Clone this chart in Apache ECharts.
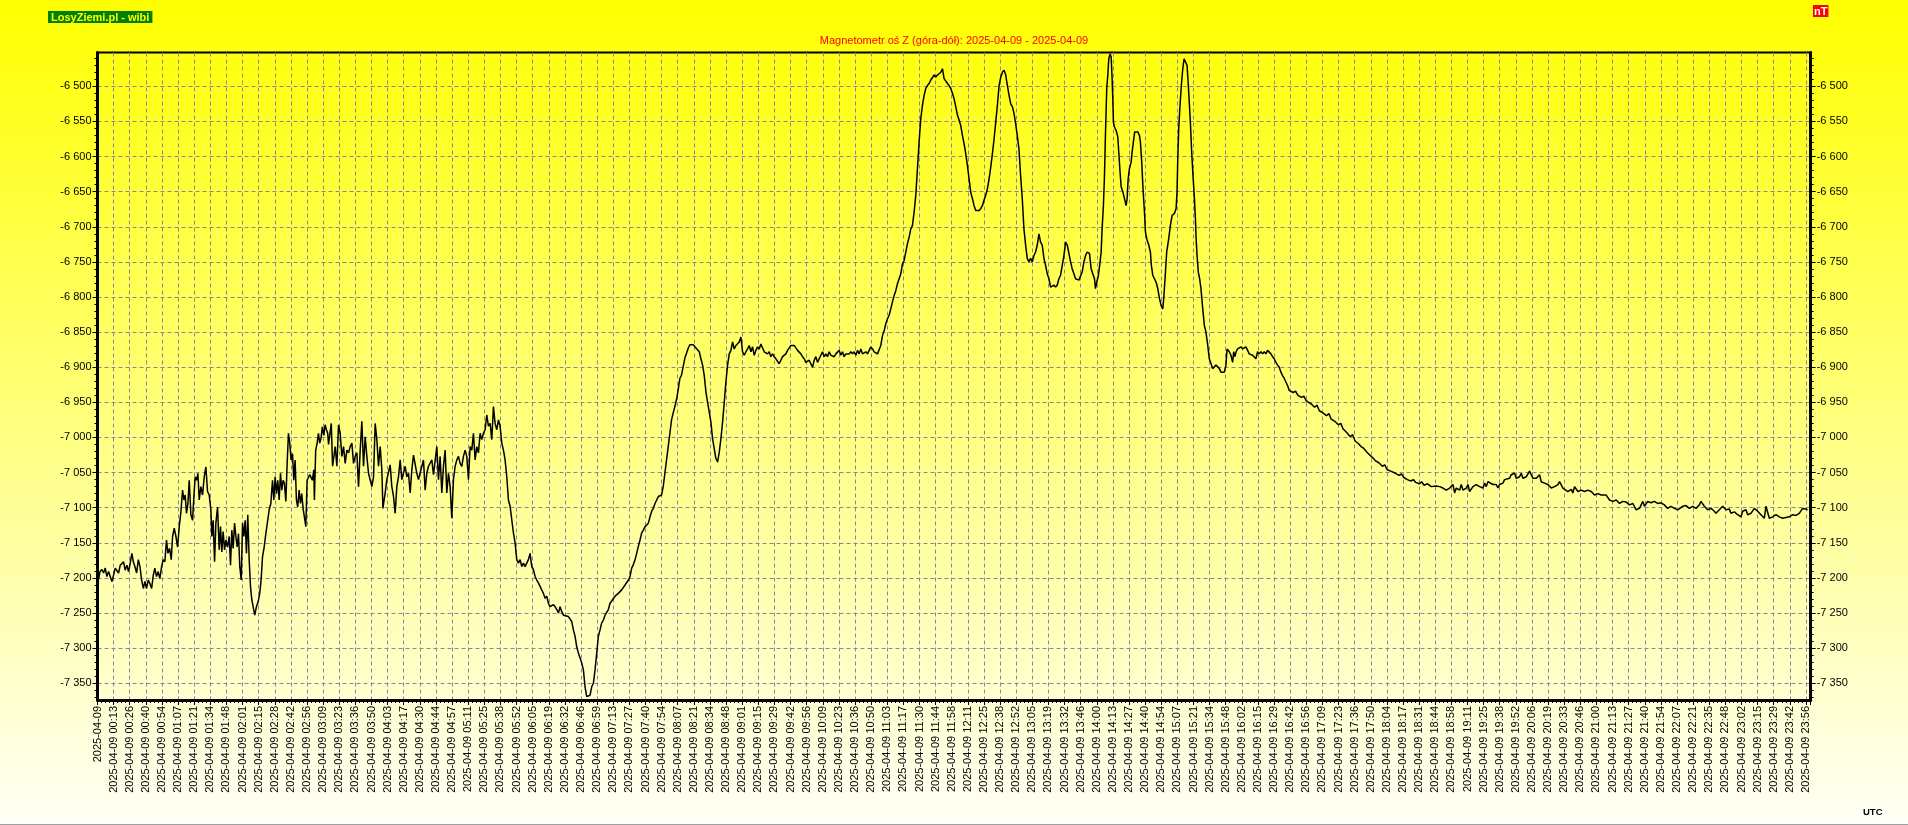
<!DOCTYPE html>
<html><head><meta charset="utf-8">
<script src="https://cdn.jsdelivr.net/npm/echarts@6.0.0/dist/echarts.min.js"></script>
<style>html,body{margin:0;padding:0;background:#fff;overflow:hidden}#chart{width:1908px;height:825px}</style>
</head><body><div id="chart"></div>
<script>
const chartTitle = 'Magnetometr oś Z (góra-dół): 2025-04-09 - 2025-04-09';
const dateLabel = '2025-04-09';
const tickTimes = ['', '00:13','00:26','00:40','00:54','01:07','01:21','01:34','01:48','02:01','02:15','02:28','02:42','02:56','03:09','03:23','03:36','03:50','04:03','04:17','04:30','04:44','04:57','05:11','05:25','05:38','05:52','06:05','06:19','06:32','06:46','06:59','07:13','07:27','07:40','07:54','08:07','08:21','08:34','08:48','09:01','09:15','09:29','09:42','09:56','10:09','10:23','10:36','10:50','11:03','11:17','11:30','11:44','11:58','12:11','12:25','12:38','12:52','13:05','13:19','13:32','13:46','14:00','14:13','14:27','14:40','14:54','15:07','15:21','15:34','15:48','16:02','16:15','16:29','16:42','16:56','17:09','17:23','17:36','17:50','18:04','18:17','18:31','18:44','18:58','19:11','19:25','19:38','19:52','20:06','20:19','20:33','20:46','21:00','21:13','21:27','21:40','21:54','22:07','22:21','22:35','22:48','23:02','23:15','23:29','23:42','23:56'];
const lastTickMinute = 1436;
const yMajorTicks = [-7350,-7300,-7250,-7200,-7150,-7100,-7050,-7000,-6950,-6900,-6850,-6800,-6750,-6700,-6650,-6600,-6550,-6500];
const yRange = [-7373.8, -6451.9];
const xRange = [0, 1440];

// [minute of day, nT]
const nightSamples = [[0,-7194],[0.9,-7202],[2.1,-7191],[3.7,-7188],[5.1,-7193],[6.5,-7186],[7.9,-7198],[9.3,-7191],[10.7,-7198],[12.1,-7205],[13.5,-7196],[14.9,-7186],[16.3,-7188],[17.7,-7193],[19.1,-7182],[20.5,-7184],[21.9,-7177],[23.3,-7189],[24.7,-7182],[26.1,-7191],[27.5,-7179],[28.9,-7165],[30.1,-7177],[31.5,-7184],[32.9,-7193],[34.3,-7174],[35.7,-7184],[37.1,-7203],[38.5,-7215],[39.9,-7205],[41.2,-7215],[42.6,-7203],[44.0,-7208],[45.5,-7215],[46.9,-7196],[48.2,-7186],[49.6,-7198],[51.0,-7191],[52.4,-7201],[53.9,-7184],[55.2,-7174],[56.6,-7177],[58.0,-7146],[59.2,-7165],[60.6,-7158],[62.0,-7174],[63.1,-7141],[64.5,-7129],[65.9,-7141],[67.3,-7156],[68.7,-7127],[70.1,-7106],[71.5,-7075],[72.6,-7089],[73.7,-7082],[74.8,-7108],[76.0,-7094],[77.1,-7061],[78.5,-7110],[79.9,-7118],[81.0,-7084],[82.1,-7056],[83.2,-7061],[84.4,-7051],[85.5,-7089],[86.9,-7070],[88.3,-7082],[89.7,-7056],[91.1,-7042],[92.5,-7077],[93.9,-7082],[95.3,-7103],[96.1,-7141],[97.2,-7118],[98.4,-7177],[99.5,-7122],[100.9,-7099],[102.3,-7160],[103.4,-7127],[104.5,-7163],[105.6,-7134],[106.8,-7160],[107.9,-7146],[109.3,-7156],[110.7,-7141],[111.8,-7182],[112.9,-7132],[114.0,-7158],[115.2,-7122],[116.3,-7141],[117.4,-7156],[118.5,-7137],[119.6,-7184],[120.8,-7203],[121.9,-7122],[123.0,-7141],[124.1,-7118],[125.2,-7165],[126.3,-7110],[127.5,-7174],[128.6,-7212],[129.7,-7231],[130.8,-7241],[132.2,-7253],[133.6,-7241],[135.0,-7234],[136.4,-7222],[137.5,-7203],[138.7,-7170],[140.1,-7156],[141.5,-7137],[142.9,-7120],[144.3,-7103],[145.7,-7094],[147.1,-7061],[148.2,-7089],[149.3,-7056],[150.4,-7080],[151.5,-7061],[152.7,-7089],[153.8,-7051],[154.9,-7075],[156.0,-7061],[157.1,-7065],[158.3,-7091],[159.4,-7037],[160.5,-6994],[161.6,-7008],[162.7,-7032],[163.9,-7023],[165.0,-7061],[166.1,-7032],[167.2,-7089],[168.3,-7099],[169.5,-7075],[170.6,-7094],[171.7,-7080],[172.8,-7101],[173.9,-7099],[175.1,-7127],[176.2,-7061],[177.3,-7061],[178.4,-7053],[179.5,-7051],[180.6,-7061],[181.8,-7046],[182.3,-7089],[183.4,-7018],[184.6,-7008],[185.7,-6994],[186.8,-7008],[187.9,-7001],[189.0,-6985],[190.2,-6997],[191.3,-6982],[192.4,-6989],[193.5,-6994]];

const morningSamples = [[194.2,-7010],[196.5,-6980],[197.6,-7041],[199.8,-7013],[201.2,-7041],[202.6,-6982],[204.0,-6994],[205.4,-7027],[206.8,-7013],[208.2,-7037],[209.6,-7018],[211.0,-7022],[212.4,-7013],[213.8,-7008],[215.2,-7037],[216.6,-7027],[218.0,-7022],[219.4,-7070],[220.8,-7018],[222.2,-6977],[223.6,-7041],[225.0,-6999],[226.4,-7027],[227.8,-7051],[229.2,-7051],[230.6,-7070],[232.0,-7056],[233.4,-6980],[234.8,-7003],[236.2,-7041],[237.6,-7013],[239.0,-7046],[239.9,-7101],[241.8,-7079],[243.2,-7060],[246.0,-7039],[247.4,-7070],[248.8,-7084],[250.2,-7108],[251.6,-7070],[253.0,-7056],[254.4,-7032],[255.8,-7060],[258.6,-7041],[260.0,-7056],[261.4,-7051],[262.8,-7079],[264.2,-7046],[265.6,-7025],[267.0,-7027],[268.4,-7051],[269.8,-7060],[272.6,-7041],[274.0,-7032],[275.4,-7075],[276.8,-7051],[278.2,-7041],[281.0,-7032],[282.4,-7053],[283.8,-7051],[285.2,-7013],[286.6,-7060],[288.0,-7027],[289.4,-7079],[290.8,-7041],[292.2,-7018],[293.6,-7079],[295.0,-7051],[296.4,-7070],[297.8,-7115],[299.2,-7060],[300.6,-7041],[302.0,-7032],[303.4,-7027],[304.8,-7037],[306.2,-7041],[307.6,-7027],[309.0,-7018],[310.4,-7027],[311.8,-7060],[313.2,-7013],[314.6,-7018],[316.0,-6994],[317.4,-7032],[318.8,-7013],[320.2,-7022],[321.6,-6994],[323.0,-7003],[324.4,-6994],[325.8,-6989],[327.2,-6968],[328.6,-6984],[330.0,-6980],[331.4,-7003],[332.8,-6956],[334.2,-6980],[335.6,-6989],[337.0,-6975],[338.4,-6984],[339.8,-7008],[341.2,-7018],[342.6,-7032],[344.0,-7056],[345.4,-7089],[346.8,-7098],[348.2,-7117],[349.6,-7136],[351.0,-7150],[352.4,-7174],[353.8,-7179],[355.2,-7174],[356.6,-7184],[358.0,-7179],[359.4,-7184],[360.8,-7179],[362.2,-7174],[363.6,-7165],[365.0,-7184],[366.4,-7188],[367.8,-7198],[369.2,-7203],[370.6,-7207],[373.4,-7217],[374.8,-7222],[376.2,-7229],[377.6,-7226],[379.0,-7236],[380.4,-7241],[381.8,-7243],[383.2,-7238],[384.6,-7241],[386.0,-7245],[387.4,-7250],[388.8,-7241],[390.2,-7248],[391.6,-7253],[393.0,-7255],[395.8,-7255],[397.2,-7257],[398.6,-7262],[400.0,-7274],[401.4,-7283],[402.8,-7298],[404.2,-7307],[405.6,-7314],[407.0,-7321],[408.4,-7331],[409.8,-7355],[411.2,-7369],[412.6,-7369],[414.0,-7367],[415.4,-7355],[416.8,-7350],[418.2,-7331],[419.6,-7307],[421.0,-7283],[422.4,-7274],[423.8,-7264],[425.2,-7260],[426.6,-7253],[429.4,-7245],[430.8,-7236],[432.2,-7234],[435.0,-7226],[437.8,-7222],[440.6,-7217],[443.4,-7210],[446.3,-7203],[447.6,-7198],[449.0,-7186],[450.4,-7181],[451.8,-7174],[453.2,-7165],[454.6,-7155],[456.0,-7146],[457.4,-7136],[458.8,-7132],[460.2,-7127],[463.0,-7122],[464.4,-7113],[465.8,-7105],[467.2,-7101],[468.6,-7094],[470.0,-7089],[471.4,-7084],[474.1,-7082],[475.5,-7070],[476.9,-7051],[478.3,-7032],[479.7,-7013],[481.1,-6994],[482.5,-6975],[483.9,-6965],[485.3,-6956],[486.7,-6946],[488.1,-6932],[489.5,-6916],[490.9,-6911],[492.3,-6899],[493.7,-6887],[495.1,-6880],[496.5,-6873],[497.9,-6868],[499.3,-6866],[500.7,-6868],[502.1,-6870]];

const middaySamples = [[505.8,-6878],[507.2,-6888],[508.6,-6897],[510.0,-6912],[511.4,-6935],[512.8,-6950],[514.2,-6964],[515.6,-6978],[517.0,-7002],[518.4,-7016],[519.8,-7030],[521.2,-7035],[522.6,-7021],[524.0,-7002],[525.4,-6978],[526.8,-6950],[528.2,-6921],[529.6,-6897],[531.0,-6881],[532.4,-6876],[533.8,-6864],[535.2,-6874],[536.6,-6869],[538.0,-6867],[539.4,-6864],[540.8,-6857],[542.2,-6878],[543.6,-6883],[545.0,-6878],[546.4,-6874],[547.8,-6869],[549.2,-6878],[550.6,-6871],[552.0,-6883],[553.4,-6876],[554.8,-6871],[556.2,-6874],[557.6,-6867],[559.0,-6869],[560.4,-6878],[561.8,-6876],[563.2,-6881],[564.6,-6878],[566.0,-6885],[567.4,-6881],[568.8,-6885],[570.2,-6888],[571.6,-6890],[573.0,-6895],[574.4,-6890],[575.8,-6885],[577.2,-6883],[578.6,-6881],[580.0,-6876],[581.4,-6874],[582.8,-6869],[584.2,-6871],[585.6,-6869],[587.0,-6871],[588.4,-6876],[589.8,-6878],[591.2,-6881],[592.6,-6885],[594.0,-6888],[595.4,-6893],[596.8,-6895],[598.2,-6890],[599.6,-6895],[601.0,-6900],[602.4,-6890],[603.8,-6885],[605.2,-6893],[606.6,-6888],[608.0,-6883],[609.4,-6878],[610.8,-6885],[612.2,-6881],[613.6,-6885],[615.0,-6878],[616.4,-6883],[617.8,-6881],[619.2,-6885],[620.6,-6881],[622.0,-6883],[623.4,-6876],[624.8,-6883],[626.2,-6878],[627.6,-6885],[629.0,-6881],[630.4,-6883],[631.8,-6881],[633.2,-6878],[634.6,-6881],[636.0,-6878],[637.4,-6883],[638.8,-6876],[640.2,-6881],[641.6,-6874],[643.0,-6881],[644.4,-6883],[645.8,-6878],[647.2,-6881],[648.6,-6883],[650.0,-6871],[651.4,-6874],[652.8,-6878],[654.2,-6876],[655.6,-6881],[657.0,-6883],[658.4,-6869],[659.8,-6855],[661.2,-6848],[662.6,-6838],[664.0,-6831],[665.4,-6826],[666.8,-6817],[668.2,-6807],[669.6,-6798],[671.0,-6791],[672.4,-6781],[673.8,-6774],[675.2,-6767],[676.6,-6753],[678.0,-6748],[679.4,-6736],[680.8,-6724],[682.2,-6715],[683.6,-6703],[685.0,-6698],[686.4,-6679],[687.8,-6655],[689.2,-6617],[690.6,-6579],[692.0,-6546],[693.4,-6527],[694.8,-6513],[696.2,-6503],[697.6,-6499],[699.0,-6496],[700.4,-6491],[701.8,-6489],[703.2,-6484],[704.6,-6487],[706.0,-6484],[707.4,-6482],[708.8,-6480],[710.2,-6475],[711.6,-6489],[713.0,-6491],[714.4,-6496],[715.8,-6499],[717.2,-6503],[718.6,-6510],[720.0,-6518],[721.4,-6529],[722.8,-6541],[724.2,-6548],[725.6,-6556],[727.0,-6570],[728.4,-6582],[729.8,-6596],[731.2,-6613],[732.6,-6632],[734.0,-6651],[735.4,-6660],[736.8,-6670],[738.2,-6677],[739.6,-6677],[741.0,-6677],[742.4,-6674],[743.8,-6670],[745.2,-6662],[746.6,-6655],[748.0,-6646],[749.4,-6632],[750.8,-6615],[752.2,-6596],[753.6,-6575],[755.0,-6551],[756.4,-6527],[757.8,-6499],[759.2,-6487],[760.6,-6480],[762.0,-6477],[763.4,-6484],[764.8,-6499],[766.2,-6513],[767.6,-6525],[769.0,-6529],[770.4,-6539],[771.7,-6553],[773.1,-6570],[774.5,-6589],[775.9,-6627],[777.3,-6660],[778.7,-6703],[780.1,-6726],[781.5,-6745],[782.9,-6750],[784.3,-6745],[785.7,-6750],[787.1,-6741],[788.5,-6736],[789.9,-6726],[791.3,-6710],[792.7,-6722],[794.1,-6726],[795.5,-6745],[796.9,-6755],[798.3,-6767],[799.7,-6774],[801.1,-6786],[802.5,-6786],[803.9,-6783],[805.3,-6786],[806.7,-6783],[808.1,-6774],[809.5,-6769],[810.9,-6755],[812.3,-6741],[813.7,-6722],[815.1,-6726],[816.5,-6738],[817.9,-6750],[819.3,-6760],[820.7,-6767],[822.1,-6774],[823.5,-6776],[824.9,-6776],[826.3,-6774],[827.7,-6764],[829.1,-6750],[830.5,-6741],[831.9,-6736]];

const afternoonSamples = [[833.8,-6738],[835.2,-6760],[836.6,-6762],[838.0,-6774],[838.8,-6788],[839.9,-6779],[841.3,-6769],[842.7,-6750],[843.6,-6736],[844.4,-6703],[845.5,-6670],[846.4,-6627],[847.2,-6570],[848.3,-6503],[849.2,-6484],[850.0,-6461],[851.1,-6454],[852.0,-6458],[852.8,-6489],[853.4,-6518],[853.9,-6551],[854.8,-6558],[856.2,-6563],[857.6,-6572],[858.4,-6594],[859.5,-6622],[860.4,-6643],[861.8,-6650],[863.2,-6660],[864.6,-6670],[865.4,-6660],[866.3,-6632],[867.4,-6617],[868.8,-6608],[869.6,-6594],[870.7,-6579],[871.8,-6565],[873.0,-6567],[874.4,-6565],[875.8,-6570],[876.6,-6579],[877.7,-6608],[878.8,-6646],[880.0,-6679],[880.8,-6707],[881.9,-6717],[883.6,-6726],[885.0,-6736],[885.8,-6755],[887.0,-6769],[888.4,-6774],[889.8,-6779],[891.2,-6788],[892.6,-6802],[894.0,-6812],[895.4,-6817],[896.2,-6802],[897.3,-6774],[898.7,-6736],[900.4,-6717],[901.8,-6698],[903.2,-6684],[905.2,-6681],[906.6,-6674],[907.4,-6650],[908.0,-6603],[908.8,-6560],[909.9,-6527],[911.0,-6499],[912.2,-6475],[913.3,-6461],[914.7,-6463],[915.8,-6470],[916.9,-6499],[917.8,-6527],[918.6,-6551],[919.7,-6594],[920.8,-6627],[922.0,-6660],[922.8,-6688],[923.3,-6712],[924.2,-6741],[925.3,-6765],[926.4,-6774],[927.5,-6788],[929.0,-6817],[930.3,-6840],[931.7,-6850],[933.2,-6869],[934.5,-6888],[936.0,-6895],[937.3,-6902],[938.7,-6902],[940.1,-6897],[941.5,-6897],[943.0,-6902],[944.3,-6907],[945.7,-6907],[947.1,-6907],[948.5,-6897],[949.4,-6874],[950.5,-6874],[951.3,-6878],[952.7,-6883],[954.1,-6893],[955.0,-6878],[956.1,-6885],[957.0,-6878],[958.3,-6874],[959.7,-6876],[961.1,-6871],[962.5,-6874],[963.9,-6876],[965.3,-6871],[966.7,-6876],[968.1,-6881],[969.5,-6881],[970.9,-6883],[972.3,-6885],[973.7,-6888],[975.1,-6878],[976.5,-6881],[977.9,-6878],[979.3,-6881],[980.7,-6878],[982.1,-6881],[983.5,-6876],[984.9,-6878],[986.3,-6881],[987.7,-6885],[989.1,-6888],[990.5,-6893],[991.9,-6897],[993.3,-6900],[994.7,-6907],[996.1,-6912],[997.5,-6916],[998.9,-6921],[1000.3,-6926],[1001.7,-6933]];

const eveningSamples = [[1005,-6936],[1007,-6934],[1009,-6940],[1012,-6943],[1014,-6941],[1016,-6948],[1020,-6952],[1023,-6957],[1025,-6954],[1027,-6962],[1030,-6965],[1033,-6969],[1035,-6966],[1037,-6974],[1040,-6977],[1043,-6982],[1045,-6980],[1047,-6988],[1050,-6993],[1053,-6999],[1055,-6996],[1057,-7005],[1060,-7009],[1062,-7013],[1064,-7015],[1067,-7021],[1070,-7026],[1072,-7029],[1074,-7033],[1077,-7036],[1080,-7041],[1082,-7039],[1084,-7046],[1087,-7048],[1091,-7051],[1094,-7054],[1096,-7052],[1098,-7057],[1101,-7060],[1104,-7062],[1106,-7060],[1108,-7064],[1111,-7066],[1113,-7063],[1115,-7068],[1118,-7066],[1121,-7070],[1125,-7069]];

const nightEndSamples = [[1128.1,-7070],[1130.9,-7072],[1133.7,-7075],[1136.5,-7072],[1139.3,-7067],[1140.7,-7079],[1142.1,-7072],[1144.9,-7075],[1146.3,-7067],[1147.7,-7075],[1150.5,-7072],[1151.9,-7067],[1153.3,-7077],[1156.1,-7070],[1158.9,-7067],[1161.7,-7070],[1164.5,-7072],[1165.9,-7065],[1167.3,-7070],[1168.7,-7063],[1170.1,-7065],[1172.9,-7067],[1175.7,-7067],[1177.1,-7072],[1178.5,-7067],[1181.3,-7065],[1182.7,-7060],[1184.1,-7058],[1186.9,-7058],[1188.3,-7053],[1191.1,-7051],[1192.5,-7058],[1195.3,-7056],[1196.7,-7051],[1198.1,-7058],[1200.9,-7056],[1203.7,-7048],[1206.5,-7058],[1209.3,-7058],[1212.1,-7053],[1213.5,-7063],[1216.3,-7065],[1219.1,-7067],[1221.9,-7072],[1224.7,-7070],[1227.5,-7067],[1228.9,-7063],[1231.7,-7072],[1233.1,-7074],[1235.9,-7077],[1238.7,-7074],[1240.1,-7079],[1241.5,-7070],[1244.3,-7077],[1247.1,-7075],[1249.9,-7077],[1252.7,-7075],[1255.5,-7077],[1258.3,-7082],[1261.1,-7080],[1263.9,-7082],[1265.3,-7084],[1268.1,-7082],[1270.9,-7089],[1273.7,-7091],[1276.5,-7089],[1279.3,-7094],[1282.1,-7091],[1284.9,-7092],[1287.7,-7096],[1290.5,-7094],[1293.3,-7103],[1296.1,-7101],[1298.9,-7091],[1300.3,-7098],[1303.0,-7091],[1305.8,-7093],[1308.6,-7091],[1311.4,-7094],[1314.2,-7093],[1317.0,-7096],[1319.8,-7101],[1322.6,-7098],[1325.4,-7101],[1328.2,-7103],[1329.6,-7105],[1332.4,-7098],[1335.2,-7097],[1338.0,-7101],[1340.8,-7098],[1343.6,-7101],[1346.4,-7096],[1347.8,-7091],[1350.6,-7098],[1353.4,-7103],[1356.2,-7101],[1359.0,-7105],[1360.4,-7108],[1363.2,-7103],[1366.0,-7098],[1368.8,-7103],[1371.6,-7102],[1373.0,-7108],[1375.8,-7106],[1378.6,-7110],[1381.4,-7113],[1382.8,-7105],[1385.6,-7103],[1387.0,-7110],[1389.8,-7108],[1392.6,-7101],[1395.4,-7105],[1398.2,-7110],[1401.0,-7115],[1402.4,-7098],[1405.2,-7115],[1408.0,-7113],[1410.8,-7110],[1413.6,-7113],[1416.4,-7115],[1419.2,-7114],[1422.0,-7113],[1424.8,-7110],[1427.6,-7111],[1430.4,-7108],[1433.2,-7101],[1436.0,-7102],[1437.4,-7103]];

const FONT = '"Liberation Sans", Arial, sans-serif';
const GRID_COLOR = '#86869a';
const xStep = lastTickMinute / (tickTimes.length - 1);
const yMinorTicks = [];
for (let v = Math.ceil(yRange[0] / 10) * 10; v <= yRange[1]; v += 10) yMinorTicks.push(v);

function fmtNT(v) {
  const s = String(Math.round(Math.abs(v))).replace(/\B(?=(\d{3})+(?!\d))/g, ' ');
  return (v < 0 ? '-' : '') + s;
}
function fmtTime(v) {
  const i = Math.round(v / xStep);
  if (i <= 0) return dateLabel;
  if (i >= tickTimes.length) return '';
  return dateLabel + ' ' + tickTimes[i];
}

const allSamples = [].concat(nightSamples, morningSamples, middaySamples, afternoonSamples, eveningSamples, nightEndSamples);

const chart = echarts.init(document.getElementById('chart'), null, {renderer: 'canvas'});
const baseY = {
  type: 'value', min: yRange[0], max: yRange[1], scale: true
};
chart.setOption({
  animation: false,
  backgroundColor: {type: 'linear', x: 0, y: 0, x2: 0, y2: 1, colorStops: [{offset: 0, color: '#ffff00'}, {offset: 1, color: '#fffff6'}]},
  title: {
    text: chartTitle, left: 'center', top: 35, padding: 0,
    textStyle: {color: '#ff0000', fontSize: 11, fontWeight: 'normal', fontFamily: FONT}
  },
  grid: {left: 97.5, right: 97.3, top: 52.5, bottom: 125, show: true, borderColor: '#000', borderWidth: 2, backgroundColor: 'transparent', containLabel: false},
  xAxis: {
    type: 'value', min: xRange[0], max: xRange[1], interval: xStep,
    axisLine: {show: true, onZero: false, lineStyle: {color: '#000', width: 3}},
    axisTick: {show: true, length: 5, lineStyle: {color: '#000', width: 1}},
    minorTick: {show: true, splitNumber: 4, length: 3, lineStyle: {color: '#000', width: 1}},
    axisLabel: {rotate: 90, margin: 6, fontSize: 11, color: '#000', fontFamily: FONT, formatter: fmtTime, showMaxLabel: false, showMinLabel: true},
    splitLine: {show: true, lineStyle: {color: GRID_COLOR, type: [4, 3], width: 1}}
  },
  yAxis: [
    Object.assign({}, baseY, {
      position: 'left',
      axisLine: {show: true, onZero: false, lineStyle: {color: '#000', width: 3}},
      axisTick: {show: true, length: 5, customValues: yMajorTicks, lineStyle: {color: '#000'}},
      axisLabel: {margin: 6, fontSize: 11, color: '#000', fontFamily: FONT, formatter: fmtNT, customValues: yMajorTicks},
      splitLine: {show: true, lineStyle: {color: GRID_COLOR, type: [4, 3], width: 1}}
    }),
    Object.assign({}, baseY, {
      position: 'right',
      axisLine: {show: true, onZero: false, lineStyle: {color: '#000', width: 3}},
      axisTick: {show: true, length: 5, customValues: yMajorTicks, lineStyle: {color: '#000'}},
      axisLabel: {margin: 6, fontSize: 11, color: '#000', fontFamily: FONT, formatter: fmtNT, customValues: yMajorTicks},
      splitLine: {show: false}
    }),
    Object.assign({}, baseY, {
      position: 'left',
      axisLine: {show: false}, axisLabel: {show: false}, splitLine: {show: false},
      axisTick: {show: true, length: 3, customValues: yMinorTicks, lineStyle: {color: '#000'}}
    }),
    Object.assign({}, baseY, {
      position: 'right',
      axisLine: {show: false}, axisLabel: {show: false}, splitLine: {show: false},
      axisTick: {show: true, length: 3, customValues: yMinorTicks, lineStyle: {color: '#000'}}
    })
  ],
  series: [{
    type: 'line', xAxisIndex: 0, yAxisIndex: 0, data: allSamples,
    showSymbol: false, symbol: 'none', smooth: false,
    lineStyle: {color: '#000', width: 1.5}, z: 5
  }],
  graphic: [
    {type: 'text', left: 48, top: 11, z: 10, style: {text: 'LosyZiemi.pl - wibi', fill: '#ffff00', font: 'bold 11px ' + FONT, backgroundColor: '#008000', padding: [1, 3, 0, 3]}},
    {type: 'text', left: 1813, top: 5, z: 10, style: {text: 'nT', fill: '#ffffff', font: 'bold 11px ' + FONT, backgroundColor: '#ff0000', padding: [1, 1, 0, 1]}},
    {type: 'text', left: 1863, top: 807, z: 10, style: {text: 'UTC', fill: '#000000', font: 'bold 9.5px ' + FONT}},
    {type: 'line', z: 10, shape: {x1: 0, y1: 824.5, x2: 1908, y2: 824.5}, style: {stroke: '#a0a0a0', lineWidth: 1}}
  ]
});
</script>
</body></html>
